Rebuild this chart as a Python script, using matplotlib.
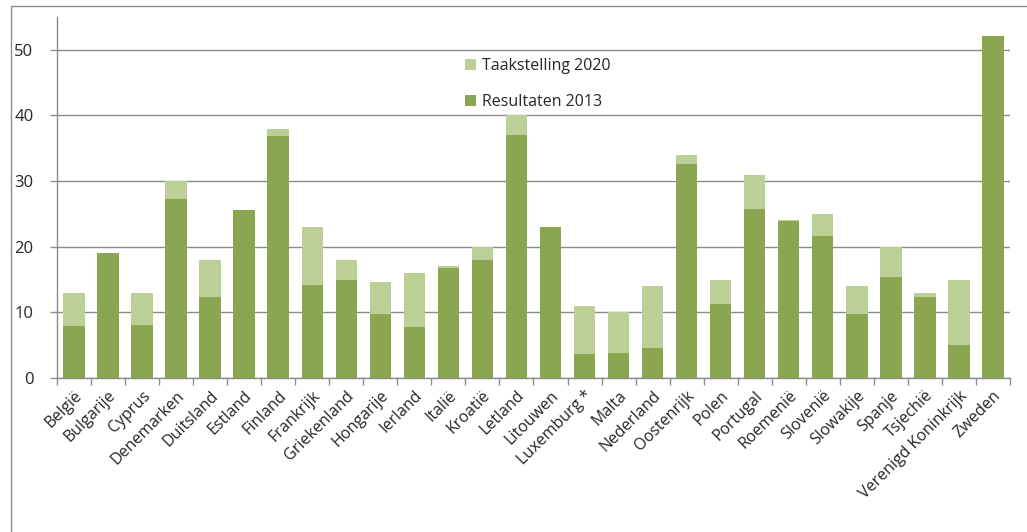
import numpy as np
import matplotlib.pyplot as plt
from matplotlib.patches import Rectangle

countries = ["België", "Bulgarije", "Cyprus", "Denemarken", "Duitsland", "Estland",
             "Finland", "Frankrijk", "Griekenland", "Hongarije", "Ierland", "Italië",
             "Kroatië", "Letland", "Litouwen", "Luxemburg *", "Malta", "Nederland",
             "Oostenrijk", "Polen", "Portugal", "Roemenië", "Slovenië", "Slowakije",
             "Spanje", "Tsjechië", "Verenigd Koninkrijk", "Zweden"]
target_2020 = [13, 16, 13, 30, 18, 25, 38, 23, 18, 14.65, 16, 17, 20, 40, 23, 11,
               10, 14, 34, 15, 31, 24, 25, 14, 20, 13, 15, 49]
result_2013 = [7.9, 19.0, 8.1, 27.2, 12.4, 25.6, 36.8, 14.2, 15.0, 9.8, 7.8, 16.7,
               18.0, 37.1, 23.0, 3.6, 3.8, 4.5, 32.6, 11.3, 25.7, 23.9, 21.7, 9.8,
               15.4, 12.4, 5.1, 52.1]

light = "#bccf97"
dark = "#8ba650"
grid_col = "#8c8c8c"
text_col = "#262626"

fig = plt.figure(figsize=(10.27, 5.32), dpi=100)
plt.rcParams['font.family'] = ['Open Sans', 'DejaVu Sans']

# outer chart frame (left and top visible)
fig.add_artist(Rectangle((0.0107, -0.05), 1.1, 0.0387 + 1.0, transform=fig.transFigure,
                         fill=False, edgecolor="#8c8c8c", linewidth=1.0))

ax = fig.add_axes([0.0555, 0.2895, 0.9279, 0.6785])
x = np.arange(len(countries))
w = 0.63
ax.bar(x, target_2020, width=w, color=light, label="Taakstelling 2020", zorder=2)
ax.bar(x, result_2013, width=w, color=dark, label="Resultaten 2013", zorder=3)

ax.set_xlim(-0.5, len(countries) - 0.5)
ax.set_ylim(0, 55)
ax.set_yticks([0, 10, 20, 30, 40, 50])
ax.yaxis.grid(True, color=grid_col, linewidth=1.0, zorder=0)
ax.set_axisbelow(True)

ax.set_xticks(x)
ax.set_xticklabels(countries, rotation=45, ha="right", rotation_mode="anchor",
                   fontsize=11.5, color=text_col)
ax.tick_params(axis="x", length=0, pad=7)
ax.set_xticks(np.arange(len(countries) + 1) - 0.5, minor=True)
ax.tick_params(axis="x", which="minor", length=5, color=grid_col, width=1)
ax.tick_params(axis="y", length=5, color=grid_col, width=1, labelsize=12,
               labelcolor=text_col, pad=12)

for s in ["top", "right"]:
    ax.spines[s].set_visible(False)
for s in ["left", "bottom"]:
    ax.spines[s].set_color(grid_col)
    ax.spines[s].set_linewidth(1.0)

handles, labels = ax.get_legend_handles_labels()
ax.legend(handles, labels, loc="upper left", bbox_to_anchor=(0.413, 0.925),
          frameon=False, fontsize=11.5, handlelength=0.7, handleheight=0.7,
          handletextpad=0.35, labelspacing=1.25, labelcolor=text_col)

fig.savefig("out.png", dpi=100)
